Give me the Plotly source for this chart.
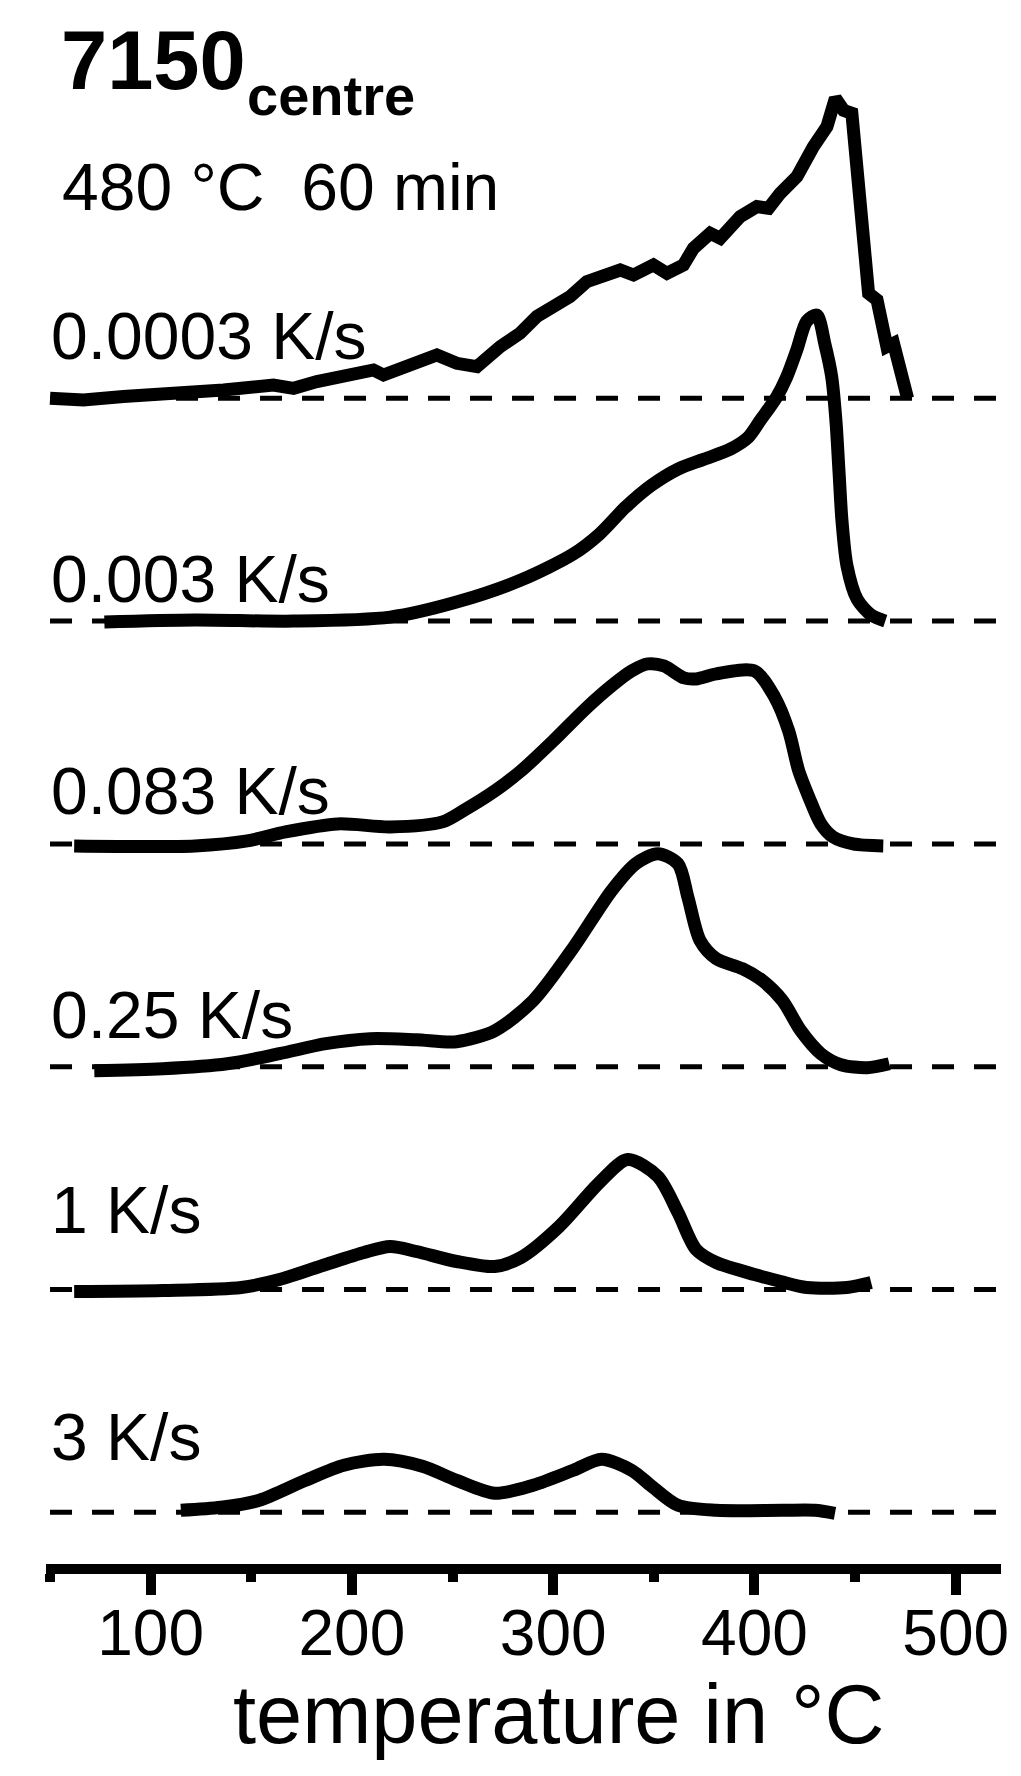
import plotly.graph_objects as go

FONT = "Liberation Sans, Arial, sans-serif"
STEP = 222.8  # vertical shift between neighbouring curves (a.u.)

# cooling rates, bottom to top
rates = ["3 K/s", "1 K/s", "0.25 K/s", "0.083 K/s", "0.003 K/s", "0.0003 K/s"]

# temperature (°C) and excess signal (a.u.)
t_3 = [115, 135, 154, 177, 196, 216, 235, 252, 271, 290, 310, 324, 339, 349, 362, 381, 414, 430, 440]
q_3 = [2, 5, 12, 32, 47, 53, 46, 32, 19, 27, 42, 53, 42, 26, 7, 2, 2, 2, -1]

t_1 = [62, 106, 145, 164, 187, 206, 219, 232, 252, 271, 284, 303, 323, 337, 352, 362, 371, 381,
       400, 413, 426, 446, 458]
q_1 = [-2, -1, 2, 10, 25, 37, 43, 38, 28, 23, 32, 63, 107, 130, 113, 77, 40, 27, 15, 8, 2, 2, 7]

t_025 = [72, 106, 138, 164, 187, 209, 232, 252, 271, 290, 310, 329, 341, 352, 362, 367, 373, 381,
         394, 404, 414, 423, 433, 443, 456, 467]
q_025 = [-4, -2, 3, 13, 23, 28, 27, 25, 36, 66, 119, 176, 203, 213, 203, 169, 126, 108, 98, 86,
         66, 36, 13, 2, -1, 3]

t_0083 = [62, 122, 148, 167, 193, 219, 245, 256, 271, 284, 300, 316, 329, 339, 347, 355, 365, 371,
          381, 400, 410, 417, 422, 427, 433, 439, 449, 464]
q_0083 = [-2, -2, 3, 12, 20, 17, 22, 34, 53, 73, 103, 135, 158, 173, 180, 178, 166, 165, 170, 173,
          147, 113, 73, 47, 20, 7, 0, -2]

t_0003 = [77, 122, 171, 219, 252, 284, 310, 323, 336, 349, 362, 375, 388, 397, 403, 411, 416, 421,
          426, 431, 435, 438.4, 440.5, 442, 443.5, 446, 451, 458, 465]
q_0003 = [-1, 1, 0, 4, 19, 41, 67, 87, 114, 136, 152, 162, 172, 184, 201, 224, 244, 271, 300, 306,
          277, 244, 200, 150, 100, 55, 22, 6, 0]

t_00003 = [50, 66.6, 86.5, 111.3, 118, 136.2, 161, 171, 182.6, 202.5, 210.7, 215.7, 227.3, 242.2,
           252.1, 262.1, 273.7, 283.5, 291.9, 300.1, 308.4, 316.7, 325, 333.3, 339.9, 349.8, 356.5,
           364.7, 369.7, 378, 383, 392.9, 401.2, 407, 412.8, 421.1, 429.3, 436, 440.2, 444.3, 448.4,
           450.1, 452.6, 455.1, 456.7, 460.9, 464.2, 465.8, 469.1, 471.6, 474.1, 476.1, 476.1]
q_00003 = [0, -1.7, 1.7, 5, 3.3, 8.3, 13.3, 10, 16.7, 25, 28.3, 23.3, 33.3, 43.3, 35, 31.7, 51.7, 65,
           82, 91.7, 101.7, 116.7, 123.3, 128.3, 123.3, 133.3, 125, 133.3, 150, 165, 160, 181.7,
           191.7, 190, 205, 221.7, 251.7, 271.7, 300, 288, 285, 251.7, 188, 131.7, 105, 98.3, 65,
           51.7, 55, 35, 28.3, 5, 0]

curves = [(t_3, q_3), (t_1, q_1), (t_025, q_025), (t_0083, q_0083), (t_0003, q_0003), (t_00003, q_00003)]
label_lift = [75, 80, 52, 53, 42, 62]  # label height above its baseline

fig = go.Figure()

# dashed zero lines
for i in range(len(rates)):
    fig.add_trace(go.Scatter(x=[50, 520], y=[i * STEP, i * STEP], mode="lines",
                             line=dict(color="black", width=5, dash="22px,20px"),
                             hoverinfo="skip"))

for i, (t, q) in enumerate(curves):
    noisy = rates[i] == "0.0003 K/s"
    fig.add_trace(go.Scatter(
        x=t, y=[v + i * STEP for v in q], mode="lines", name=rates[i],
        line=dict(color="black", width=13,
                  shape="linear" if noisy else "spline", smoothing=0.8)))

annotations = []
for i, r in enumerate(rates):
    annotations.append(dict(x=49.6, y=i * STEP + label_lift[i], xref="x", yref="y", text=r,
                            showarrow=False, xanchor="left", yanchor="middle",
                            font=dict(family=FONT, size=66, color="black")))

annotations += [
    dict(x=54.5, y=1452, xref="x", yref="y", text="<b>7150</b>", showarrow=False,
         xanchor="left", yanchor="middle", font=dict(family=FONT, size=83, color="black")),
    dict(x=147, y=1417, xref="x", yref="y", text="<b>centre</b>", showarrow=False,
         xanchor="left", yanchor="middle", font=dict(family=FONT, size=56, color="black")),
    dict(x=55, y=1325, xref="x", yref="y", text="480\u00a0°C\u00a0\u00a060 min", showarrow=False,
         xanchor="left", yanchor="middle", font=dict(family=FONT, size=66, color="black")),
    dict(x=0.537, y=-0.0962, xref="paper", yref="paper", text="temperature in °C",
         showarrow=False, xanchor="center", yanchor="middle",
         font=dict(family=FONT, size=83, color="black")),
]

fig.update_layout(
    width=1021, height=1776,
    margin=dict(l=46, r=20, t=0, b=212),
    paper_bgcolor="white", plot_bgcolor="white",
    showlegend=False, hovermode=False,
    annotations=annotations,
    xaxis=dict(range=[48, 522.5], showgrid=False, zeroline=False,
               showline=True, linecolor="black", linewidth=10,
               ticks="outside", ticklen=21, tickwidth=10, tickcolor="black",
               tick0=0, dtick=100, ticklabelstandoff=-17,
               minor=dict(ticks="outside", ticklen=8, tickwidth=10, tickcolor="black",
                          tick0=0, dtick=50, showgrid=False),
               tickfont=dict(family=FONT, size=64, color="black")),
    yaxis=dict(range=[-51.7, 1512.3], visible=False, showgrid=False, zeroline=False),
)

# the page's default body margin would shift the figure by 8 px
fig.write_html("out.html", config={"displayModeBar": False},
               post_script="document.body.style.margin='0';")
